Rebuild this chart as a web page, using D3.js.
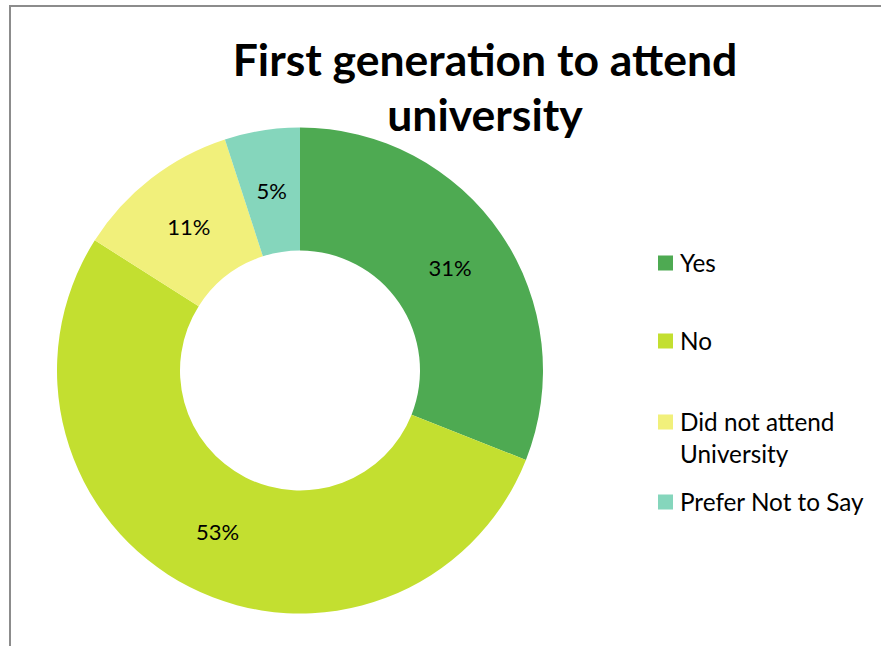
<!DOCTYPE html>
<html>
<head>
<meta charset="utf-8">
<script src="https://cdn.jsdelivr.net/npm/d3@7"></script>
<style>
  html, body { margin: 0; padding: 0; background: #fff; }
  svg { display: block; }
</style>
</head>
<body>
<svg id="chart" width="881" height="646"></svg>
<script>
const categories = ["Yes", "No", "Did not attend University", "Prefer Not to Say"];
const values = [31, 53, 11, 5];
const labels = ["31%", "53%", "11%", "5%"];
const legendLines = [["Yes"], ["No"], ["Did not attend", "University"], ["Prefer Not to Say"]];
const colors = ["#4EAA52", "#C3DF30", "#F1F07B", "#85D6BC"];
const titleLines = ["First generation to attend", "university"];

const svg = d3.select("#chart");
const FONT = "Lato, 'Liberation Sans', sans-serif";

// outer frame
svg.append("rect")
  .attr("x", 10).attr("y", 6)
  .attr("width", 900).attr("height", 700)
  .attr("fill", "none").attr("stroke", "#8c8c8c").attr("stroke-width", 2);

// title
svg.append("g").selectAll("text")
  .data(titleLines)
  .join("text")
  .attr("x", 485)
  .attr("y", (d, i) => 76 + i * 55)
  .attr("text-anchor", "middle")
  .attr("font-family", FONT)
  .attr("font-weight", "bold")
  .attr("font-size", 44.5)
  .attr("fill", "#000")
  .text(d => d);

const cx = 300, cy = 370.5, rOuter = 243, rInner = 120;
const pie = d3.pie().sort(null).value(d => d);
const arc = d3.arc().innerRadius(rInner).outerRadius(rOuter);
const labelArc = d3.arc().innerRadius((rInner + rOuter) / 2).outerRadius((rInner + rOuter) / 2);
const arcs = pie(values);

const g = svg.append("g").attr("transform", `translate(${cx},${cy})`);
g.selectAll("path")
  .data(arcs)
  .join("path")
  .attr("d", arc)
  .attr("fill", (d, i) => colors[i]);

g.selectAll("text")
  .data(arcs)
  .join("text")
  .attr("transform", d => `translate(${labelArc.centroid(d)})`)
  .attr("text-anchor", "middle")
  .attr("dy", "0.35em")
  .attr("font-family", FONT)
  .attr("font-size", 22)
  .attr("fill", "#000")
  .text((d, i) => labels[i]);

// legend
const legendY = [263, 341, 422, 502];
const lg = svg.append("g");
const items = lg.selectAll("g")
  .data(categories)
  .join("g")
  .attr("transform", (d, i) => `translate(658,${legendY[i]})`);
items.append("rect")
  .attr("x", 0).attr("y", -7.5)
  .attr("width", 15).attr("height", 15)
  .attr("fill", (d, i) => colors[i]);
items.each(function(d, i) {
  const t = d3.select(this).append("text")
    .attr("font-family", FONT)
    .attr("font-size", 24.3)
    .attr("fill", "#000");
  legendLines[i].forEach((line, j) => {
    t.append("tspan").attr("x", 22).attr("y", j * 32).attr("dy", "0.35em").text(line);
  });
});
</script>
</body>
</html>
